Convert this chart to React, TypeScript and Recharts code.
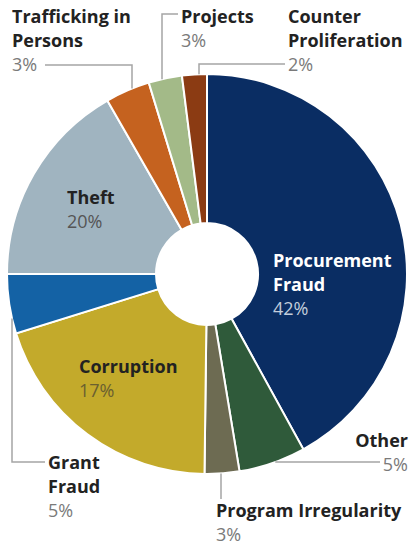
import React from 'react';
import { PieChart, Pie, Cell } from 'recharts';

// slice shares as drawn (clockwise from 12 o'clock)
const categories = [
  'Procurement Fraud',
  'Other',
  'Program Irregularity',
  'Corruption',
  'Grant Fraud',
  'Theft',
  'Trafficking in Persons',
  'Projects',
  'Counter Proliferation',
];
const shares = [42.0, 5.4, 2.8, 20.0, 4.8, 16.7, 3.6, 2.7, 2.0];
const percentLabels = ['42%', '5%', '3%', '17%', '5%', '20%', '3%', '3%', '2%'];
const nameLines = [
  ['Procurement', 'Fraud'],
  ['Other'],
  ['Program Irregularity'],
  ['Corruption'],
  ['Grant', 'Fraud'],
  ['Theft'],
  ['Trafficking in', 'Persons'],
  ['Projects'],
  ['Counter', 'Proliferation'],
];
const colors = [
  '#0a2d63',
  '#2f5a3a',
  '#6d6b52',
  '#c3aa2b',
  '#1462a5',
  '#a0b4c0',
  '#c5621f',
  '#a3ba88',
  '#8b3b13',
];

const data = categories.map((name, i) => ({ name, value: shares[i] }));

type Leader = { side: 'top' | 'bottom' | 'left' | 'right'; at: number; pts: number[][] };
type Layout = {
  tx: number;
  ty: number;
  anchor: 'start' | 'end';
  nameFill: string;
  pctFill: string;
  leader?: Leader;
};

// label placement relative to the pie centre
const layout: Layout[] = [
  { tx: 66, ty: -7, anchor: 'start', nameFill: '#ffffff', pctFill: '#c3cddc' },
  {
    tx: 201, ty: 173, anchor: 'end', nameFill: '#222', pctFill: '#7a7a7a',
    leader: { side: 'right', at: 188, pts: [[173, 188]] },
  },
  {
    tx: 9, ty: 243, anchor: 'start', nameFill: '#222', pctFill: '#7a7a7a',
    leader: { side: 'bottom', at: 14, pts: [[14, 225]] },
  },
  { tx: -128, ty: 99, anchor: 'start', nameFill: '#222', pctFill: '#6a6030' },
  {
    tx: -159, ty: 195, anchor: 'start', nameFill: '#222', pctFill: '#7a7a7a',
    leader: { side: 'bottom', at: -195, pts: [[-195, 188], [-162, 188]] },
  },
  { tx: -140, ty: -70, anchor: 'start', nameFill: '#222', pctFill: '#555' },
  {
    tx: -195, ty: -251, anchor: 'start', nameFill: '#222', pctFill: '#7a7a7a',
    leader: { side: 'top', at: -75, pts: [[-75, -209], [-162, -209]] },
  },
  {
    tx: -26, ty: -251, anchor: 'start', nameFill: '#222', pctFill: '#7a7a7a',
    leader: { side: 'top', at: -45, pts: [[-45, -260], [-29, -260]] },
  },
  {
    tx: 81, ty: -251, anchor: 'start', nameFill: '#222', pctFill: '#7a7a7a',
    leader: { side: 'top', at: -8, pts: [[-8, -210], [78, -210]] },
  },
];

const FONT = '"Open Sans", sans-serif';
const FONT_SIZE = 18;
const LINE_H = 24;

function arcPoint(side: Leader['side'], at: number, r: number): number[] {
  const d = Math.sqrt(Math.max(r * r - at * at, 0));
  if (side === 'top') return [at, -d];
  if (side === 'bottom') return [at, d];
  if (side === 'left') return [-d, at];
  return [d, at];
}

const renderLabel = (props: any) => {
  const { cx, cy, outerRadius, index } = props;
  const l = layout[index];
  const names = nameLines[index];
  const x = cx + l.tx;
  let pts = '';
  if (l.leader) {
    const start = arcPoint(l.leader.side, l.leader.at, outerRadius);
    pts = [start, ...l.leader.pts].map((p) => `${cx + p[0]},${cy + p[1]}`).join(' ');
  }
  return (
    <g key={`lbl-${index}`}>
      {l.leader && <polyline points={pts} fill="none" stroke="#a5a5a5" strokeWidth={1.5} />}
      <text x={x} y={cy + l.ty} textAnchor={l.anchor} fontFamily={FONT} fontSize={FONT_SIZE}>
        {names.map((n, i) => (
          <tspan key={i} x={x} dy={i === 0 ? 0 : LINE_H} fill={l.nameFill} fontWeight={700}>
            {n}
          </tspan>
        ))}
        <tspan x={x} dy={LINE_H} fill={l.pctFill} fontWeight={400}>
          {percentLabels[index]}
        </tspan>
      </text>
    </g>
  );
};

export default function App() {
  return (
    <div style={{ width: 411, height: 546, background: '#fff' }}>
      <style>{'body{margin:0}'}</style>
      <PieChart width={411} height={546} margin={{ top: 0, right: 0, bottom: 0, left: 0 }}>
        <Pie
          data={data}
          dataKey="value"
          nameKey="name"
          cx={207}
          cy={274}
          outerRadius={200}
          innerRadius={51}
          startAngle={90}
          endAngle={-270}
          stroke="#ffffff"
          strokeWidth={2}
          label={renderLabel}
          labelLine={false}
          isAnimationActive={false}
        >
          {data.map((d, i) => (
            <Cell key={d.name} fill={colors[i]} />
          ))}
        </Pie>
      </PieChart>
    </div>
  );
}
